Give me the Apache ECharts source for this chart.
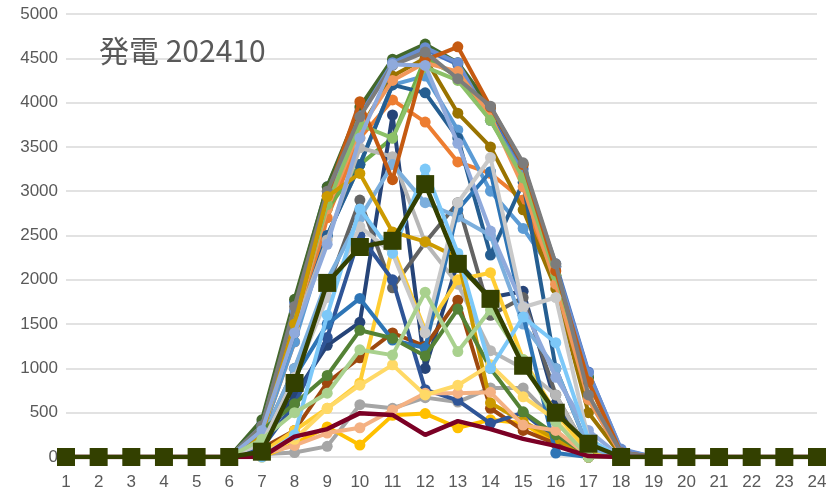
<!DOCTYPE html>
<html><head><meta charset="utf-8">
<script src="https://cdn.jsdelivr.net/npm/echarts@6/dist/echarts.min.js"></script>
<style>html,body{margin:0;padding:0;background:#fff}#c{width:837px;height:496px}</style>
</head><body><div id="c"></div>
<script>
const hours = ['1','2','3','4','5','6','7','8','9','10','11','12','13','14','15','16','17','18','19','20','21','22','23','24'];
const yTicks = [0,500,1000,1500,2000,2500,3000,3500,4000,4500,5000];
const titleText = '発電 202410';
const Z6 = [0,0,0,0,0,0];
// values for hours 7..18 (hours 1-6 and 19-24 are zero)
const d01 = [380,1750,3050,3900,4450,4600,4430,3900,3250,2180,960,80];
const d02 = [250,1300,2700,3600,4030,3780,3330,3200,2900,1950,700,20];
const d03 = [30,50,120,590,550,670,620,780,780,400,30,0];
const d04 = [0,150,340,135,470,490,330,420,380,150,0,0];
const d05 = [250,1300,2500,3300,4200,4300,3690,3000,2580,2050,650,30];
const d06 = [300,1500,2800,3300,3600,4500,4300,3800,3200,2050,900,40];
const d07 = [150,700,1260,1520,3860,1000,2200,1800,1870,600,50,0];
const d08 = [100,300,840,1120,1400,1250,1770,550,300,150,0,0];
const d09 = [200,1000,1900,2900,1910,2420,2870,1600,1800,700,50,0];
const d10 = [300,1500,2900,3700,4300,4500,3880,3500,2790,1900,500,20];
const d11 = [300,1400,2500,3300,4200,4110,3600,2280,3100,1000,100,0];
const d12 = [420,1780,3050,3950,4490,4660,4450,3950,3300,2150,900,60];
const d13 = [350,1650,2950,3850,4450,4620,4450,3800,3200,2150,950,90];
const d14 = [280,1500,2800,3700,4250,4450,4350,3850,3050,1950,650,30];
const d15 = [250,1450,2450,3490,3390,2420,1950,1200,1000,700,50,0];
const d16 = [50,300,550,835,2360,1430,2000,2080,1100,500,50,0];
const d17 = [200,1000,2000,2700,3300,2870,2710,2500,1500,1000,100,0];
const d18 = [300,1550,2850,3750,3600,4400,4250,3800,3150,2050,850,40];
const d19 = [100,600,1350,2500,2000,760,640,380,500,200,0,0];
const d20 = [300,1500,2950,4010,3130,4480,4630,3950,3300,2100,850,50];
const d21 = [350,1700,3000,3840,4420,4570,4270,3960,3320,2180,700,50];
const d22 = [250,1500,2940,3200,2540,2430,2250,610,400,200,0,0];
const d23 = [150,900,1500,1790,1320,1230,2790,3220,1600,45,0,0];
const d24 = [300,600,920,1430,1340,1140,1670,1000,510,250,20,0];
const d25 = [300,1400,2400,3600,4430,4420,3540,2550,1700,900,300,0];
const d26 = [30,130,270,330,530,720,720,730,360,300,10,0];
const d27 = [150,900,1800,2600,2300,1400,2870,3380,1690,1800,200,0];
const d28 = [50,200,550,810,1040,700,810,1040,680,420,0,0];
const d29 = [0,250,1600,2800,2300,3250,2300,1000,1580,1290,200,0];
const d30 = [200,500,720,1210,1150,1860,1190,1660,1100,400,0,0];
const avg = [60,835,1965,2370,2440,3080,2180,1785,1030,500,150,0];
const low = [0,230,315,495,475,250,405,315,205,125,10,0];

const daily = [d01,d02,d03,d04,d05,d06,d07,d08,d09,d10,d11,d12,d13,d14,d15,d16,d17,d18,d19,d20,d21,d22,d23,d24,d25,d26,d27,d28,d29,d30];
const colors = ['#4472C4','#ED7D31','#A5A5A5','#FFC000','#5B9BD5','#70AD47','#264478','#9E480E','#636363','#997300','#255E91','#43682B','#698ED0','#F1975A','#B7B7B7','#FFCD33','#7CAFDD','#8CC168','#2F5597','#C55A11','#7C7C7C','#CC9A00','#2E75B6','#548235','#8FAADC','#F4B183','#C9C9C9','#FFD966','#7CC8F8','#A9D18E'];
const full = a => Z6.concat(a, Z6);

const series = daily.map((d,i)=>({
  type:'line', data: full(d), symbol:'circle', symbolSize:11,
  lineStyle:{width:4,color:colors[i]}, itemStyle:{color:colors[i]}, z:2+i*0.01
}));
series.push({type:'line', data: full(low), symbol:'none', lineStyle:{width:4.5,color:'#7B0025'}, itemStyle:{color:'#7B0025'}, z:3});
series.push({type:'line', data: full(avg), symbol:'rect', symbolSize:18, lineStyle:{width:4.5,color:'#334000'}, itemStyle:{color:'#334000'}, z:4});

const chart = echarts.init(document.getElementById('c'));
chart.setOption({
  animation:false,
  backgroundColor:'#fff',
  title:{text:titleText, left:94, top:31, textStyle:{fontFamily:'Noto Sans CJK JP', fontSize:30, fontWeight:'normal', color:'#595959'}},
  grid:{left:66, right:20, top:14, bottom:39, containLabel:false},
  xAxis:{type:'category', data:hours, boundaryGap:false,
    axisLine:{show:false}, axisTick:{show:false},
    axisLabel:{color:'#595959', fontSize:17, fontFamily:'Liberation Sans', margin:17}},
  yAxis:{type:'value', min:0, max:5000, interval:500,
    axisLine:{show:false}, axisTick:{show:false},
    splitLine:{lineStyle:{color:'#D9D9D9', width:1.5}},
    axisLabel:{color:'#595959', fontSize:17, fontFamily:'Liberation Sans', margin:8, formatter: v => String(v)}},
  series: series
});
</script></body></html>
